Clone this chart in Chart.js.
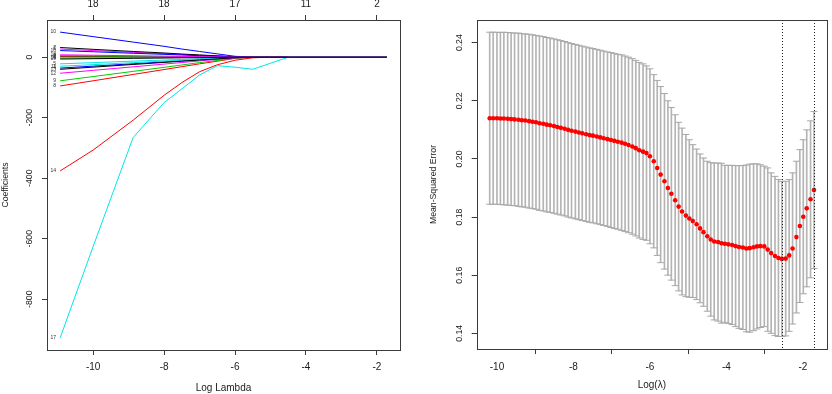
<!DOCTYPE html>
<html><head><meta charset="utf-8">
<script src="https://cdn.jsdelivr.net/npm/chart.js@4.4.1/dist/chart.umd.min.js"></script>
<style>
html,body{margin:0;padding:0;background:#fff;}
#wrap{position:relative;width:832px;height:394px;overflow:hidden;background:#fff;}
canvas{position:absolute;top:0;}
</style></head><body>
<div id="wrap">
<canvas id="c1" width="416" height="394" style="left:0px"></canvas>
<canvas id="c2" width="416" height="394" style="left:416px"></canvas>
</div>
<script>
// ---------- Left panel: coefficient paths (glmnet) ----------
const pathLogLambda = [-10.93, -10, -8.87, -8, -7.5, -7, -6.5, -6, -5.5, -5, -4.5, -1.72];
const coef1  = [3, 2.5, 1.8, 1.3, 1, 0.7, 0.4, 0.1, 0, 0, 0, 0];
const coef2  = [1, 0.8, 0.6, 0.4, 0.3, 0.2, 0.1, 0, 0, 0, 0, 0];
const coef3  = [5, 4.1, 3, 2.2, 1.7, 1.2, 0.7, 0.2, 0, 0, 0, 0];
const coef4  = [-36, -29.5, -21.6, -15.5, -11.9, -8.3, -5, -1.4, 0, 0, 0, 0];
const coef5  = [-22, -18, -13, -9.5, -7.3, -5, -3, -0.9, 0, 0, 0, 0];
const coef6  = [27, 22, 16, 11.6, 9, 6.2, 3.8, 1, 0, 0, 0, 0];
const coef7  = [32, 26, 19, 14, 10.5, 7.5, 4.5, 1.3, 0, 0, 0, 0];
const coef8  = [-95, -78, -57, -40.9, -31.4, -21.9, -13.3, -3.8, 0, 0, 0, 0];
const coef9  = [-78, -64, -46.8, -33.5, -25.7, -17.9, -10.9, -3.1, 0, 0, 0, 0];
const coef10 = [83, 68, 50, 36, 27, 19, 11, 3, 0, 0, 0, 0];
const coef11 = [-30, -24.6, -18, -12.9, -9.9, -6.9, -4.2, -1.2, 0, 0, 0, 0];
const coef12 = [-53, -43.5, -31.8, -22.8, -17.5, -12.2, -7.4, -2.1, 0, 0, 0, 0];
const coef13 = [-40, -32.8, -24, -17.2, -13.2, -9.2, -5.6, -1.6, 0, 0, 0, 0];
const coef14 = [-376, -307, -208, -126, -84, -48, -25, -10, -2, 0, 0, 0];
const coef15 = [-3, -2.5, -1.8, -1.3, -1, -0.7, -0.4, -0.1, 0, 0, 0, 0];
const coef16 = [22, 18, 13, 9.5, 7.3, 5, 3, 0.9, 0, 0, 0, 0];
const coef17 = [-928, -626, -265, -150, -105, -59, -28, -33, -40, -20, 0, 0];
const coef18 = [8, 6.6, 4.8, 3.4, 2.6, 1.8, 1.1, 0.3, 0, 0, 0, 0];
const coef19 = [-6, -4.9, -3.6, -2.6, -2, -1.4, -0.8, -0.2, 0, 0, 0, 0];
const coefSeries = [coef1, coef2, coef3, coef4, coef5, coef6, coef7, coef8, coef9, coef10,
                    coef11, coef12, coef13, coef14, coef15, coef16, coef17, coef18, coef19];
const leftXTicks = [-10, -8, -6, -4, -2];
const leftTopDf = ['18', '18', '17', '11', '2'];
const leftYTicks = [-800, -600, -400, -200, 0];

// ---------- Right panel: cross-validation curve (cv.glmnet) ----------
const cvLogLambda = [
 -10.19,-10.10,-10.00,-9.91,-9.82,-9.72,-9.63,-9.54,-9.44,-9.35,
 -9.26,-9.16,-9.07,-8.98,-8.89,-8.79,-8.70,-8.61,-8.51,-8.42,
 -8.33,-8.23,-8.14,-8.05,-7.95,-7.86,-7.77,-7.67,-7.58,-7.49,
 -7.39,-7.30,-7.21,-7.11,-7.02,-6.93,-6.84,-6.74,-6.65,-6.56,
 -6.46,-6.37,-6.28,-6.18,-6.09,-6.00,-5.90,-5.81,-5.72,-5.62,
 -5.53,-5.44,-5.34,-5.25,-5.16,-5.06,-4.97,-4.88,-4.78,-4.69,
 -4.60,-4.50,-4.41,-4.32,-4.22,-4.13,-4.04,-3.95,-3.85,-3.76,
 -3.67,-3.57,-3.48,-3.39,-3.29,-3.20,-3.11,-3.01,-2.92,-2.83,
 -2.73,-2.64,-2.55,-2.45,-2.36,-2.27,-2.17,-2.08,-1.99,-1.90,
 -1.80,-1.71];
const cvMean = [
 0.2140,0.2140,0.2140,0.2139,0.2139,0.2138,0.2137,0.2136,0.2135,0.2133,
 0.2132,0.2130,0.2128,0.2126,0.2123,0.2121,0.2118,0.2116,0.2113,0.2110,
 0.2107,0.2104,0.2100,0.2097,0.2094,0.2091,0.2088,0.2085,0.2082,0.2080,
 0.2077,0.2074,0.2071,0.2068,0.2065,0.2062,0.2059,0.2056,0.2052,0.2048,
 0.2043,0.2037,0.2030,0.2025,0.2020,0.2009,0.1992,0.1969,0.1946,0.1923,
 0.1900,0.1880,0.1858,0.1836,0.1819,0.1805,0.1795,0.1786,0.1775,0.1761,
 0.1748,0.1734,0.1723,0.1716,0.1714,0.1710,0.1708,0.1706,0.1704,0.1700,
 0.1697,0.1695,0.1692,0.1693,0.1696,0.1699,0.1700,0.1699,0.1688,0.1676,
 0.1666,0.1659,0.1656,0.1657,0.1668,0.1692,0.1731,0.1769,0.1801,0.1830,
 0.1861,0.1893];
const cvSE = [
 0.0296,0.0296,0.0296,0.0296,0.0297,0.0297,0.0297,0.0297,0.0298,0.0298,
 0.0298,0.0299,0.0299,0.0299,0.0300,0.0300,0.0300,0.0300,0.0300,0.0300,
 0.0300,0.0300,0.0300,0.0300,0.0300,0.0300,0.0300,0.0300,0.0300,0.0300,
 0.0300,0.0300,0.0300,0.0300,0.0301,0.0301,0.0301,0.0302,0.0302,0.0302,
 0.0302,0.0302,0.0302,0.0302,0.0300,0.0301,0.0298,0.0301,0.0303,0.0302,
 0.0300,0.0297,0.0294,0.0290,0.0287,0.0279,0.0271,0.0263,0.0259,0.0256,
 0.0255,0.0258,0.0264,0.0270,0.0272,0.0275,0.0270,0.0272,0.0274,0.0277,
 0.0280,0.0282,0.0287,0.0289,0.0287,0.0284,0.0280,0.0276,0.0281,0.0276,
 0.0274,0.0270,0.0267,0.0266,0.0261,0.0260,0.0261,0.0263,0.0265,0.0270,
 0.0270,0.0270];
const cvNzAt = [0, 6, 12, 18, 25, 31, 37, 42, 48, 54, 60, 66, 72, 77, 81, 85, 89];
const cvNzLabels = ['19','19','19','19','19','19','18','18','17','15','14','13','11','8','4','2','1'];
const lambdaMinIdx = 82;
const lambda1seIdx = 91;
const rightXTicks = [-10, -8, -6, -4, -2];
const rightYTicks = [0.14, 0.16, 0.18, 0.20, 0.22, 0.24];

// ---------- styling ----------
Chart.defaults.font.family = '"Liberation Sans", Arial, Helvetica, sans-serif';
Chart.defaults.color = '#1a1a1a';
const FONT = '"Liberation Sans", Arial, Helvetica, sans-serif';
const rPalette = ['#000000', '#FF0000', '#00CD00', '#0000FF', '#00E5E5', '#FF00FF'];
const axisCol = '#3a3a3a';

function rBoxAndYLabels(labelX, decimals) {
  return {
    id: 'rBox',
    afterDraw(chart) {
      const ctx = chart.ctx, a = chart.chartArea, ys = chart.scales.y;
      ctx.save();
      ctx.strokeStyle = axisCol; ctx.lineWidth = 1;
      ctx.strokeRect(Math.round(a.left) + 0.5, Math.round(a.top) + 0.5,
                     Math.round(a.right) - Math.round(a.left), Math.round(a.bottom) - Math.round(a.top));
      ctx.fillStyle = '#1a1a1a';
      ctx.font = '8.7px ' + FONT;
      ctx.textAlign = 'center'; ctx.textBaseline = 'middle';
      ys.ticks.forEach(t => {
        const y = ys.getPixelForValue(t.value);
        ctx.save(); ctx.translate(labelX, y); ctx.rotate(-Math.PI / 2);
        ctx.fillText(decimals ? t.value.toFixed(decimals) : String(t.value), 0, 0);
        ctx.restore();
      });
      ctx.restore();
    }
  };
}

const coefLabelPlugin = {
  id: 'coefLabels',
  afterDatasetsDraw(chart) {
    const ctx = chart.ctx;
    ctx.save();
    ctx.fillStyle = '#333'; ctx.font = '5px ' + FONT;
    ctx.textAlign = 'right'; ctx.textBaseline = 'middle';
    chart.data.datasets.forEach((ds, i) => {
      const pt = chart.getDatasetMeta(i).data[0];
      ctx.fillText(String(i + 1), pt.x - 4, pt.y);
    });
    ctx.restore();
  }
};

const vlinePlugin = {
  id: 'vlines',
  afterDatasetsDraw(chart) {
    const ctx = chart.ctx, a = chart.chartArea, xs = chart.scales.x;
    ctx.save();
    ctx.strokeStyle = '#222'; ctx.lineWidth = 1; ctx.setLineDash([1, 2]);
    [lambdaMinIdx, lambda1seIdx].forEach(i => {
      const x = Math.round(xs.getPixelForValue(cvLogLambda[i])) + 0.5;
      ctx.beginPath(); ctx.moveTo(x, a.top); ctx.lineTo(x, a.bottom); ctx.stroke();
    });
    ctx.restore();
  }
};

const tickGrid = { display: true, drawOnChartArea: false, drawTicks: true, tickLength: 5, color: axisCol, lineWidth: 1 };

// ---------- Left chart ----------
new Chart(document.getElementById('c1'), {
  type: 'line',
  data: {
    datasets: coefSeries.map((vals, k) => ({
      label: 'V' + (k + 1),
      data: pathLogLambda.map((x, j) => ({ x: x, y: vals[j] })),
      borderColor: rPalette[k % 6], borderWidth: 1, pointRadius: 0,
      tension: 0, fill: false, order: 19 - k, xAxisID: 'x', yAxisID: 'y'
    }))
  },
  options: {
    responsive: false, animation: false, events: [],
    layout: { padding: { left: 0, right: 16, top: 0, bottom: 0 } },
    plugins: { legend: { display: false }, tooltip: { enabled: false } },
    scales: {
      x: {
        type: 'linear', position: 'bottom', min: -11.30, max: -1.35,
        afterBuildTicks: s => { s.ticks = leftXTicks.map(v => ({ value: v })); },
        afterFit: s => { s.height = 44; },
        grid: tickGrid, border: { display: false },
        ticks: { font: { size: 10 }, padding: 6.5, maxRotation: 0, minRotation: 0, autoSkip: false,
                 callback: v => String(v) },
        title: { display: true, text: 'Log Lambda', font: { size: 10 }, padding: { top: 0, bottom: 0 } }
      },
      xTop: {
        type: 'linear', position: 'top', min: -11.30, max: -1.35,
        afterBuildTicks: s => { s.ticks = leftXTicks.map(v => ({ value: v })); },
        afterFit: s => { s.height = 20; },
        grid: tickGrid, border: { display: false },
        ticks: { font: { size: 10 }, padding: 4.7, maxRotation: 0, minRotation: 0, autoSkip: false,
                 callback: (v, i) => leftTopDf[i] }
      },
      y: {
        type: 'linear', position: 'left', min: -968, max: 123,
        afterBuildTicks: s => { s.ticks = leftYTicks.map(v => ({ value: v })); },
        afterFit: s => { s.width = 47; },
        grid: tickGrid, border: { display: false },
        ticks: { display: false },
        title: { display: true, text: 'Coefficients', font: { size: 8.7 }, padding: { top: 0, bottom: 0 } }
      }
    }
  },
  plugins: [rBoxAndYLabels(30, 0), coefLabelPlugin]
});

// ---------- Right chart ----------
const cvUpper = cvMean.map((m, i) => m + cvSE[i]);
const cvLower = cvMean.map((m, i) => m - cvSE[i]);

new Chart(document.getElementById('c2'), {
  type: 'scatter',
  data: {
    datasets: [
      { type: 'scatter', label: 'cvm', data: cvLogLambda.map((x, i) => ({ x: x, y: cvMean[i] })),
        pointRadius: 2.3, pointBackgroundColor: '#FF0000', pointBorderWidth: 0, order: 0 },
      { type: 'scatter', label: 'cvup', data: cvLogLambda.map((x, i) => ({ x: x, y: cvUpper[i] })),
        pointStyle: 'line', pointRadius: 3.5, pointBorderColor: '#A9A9A9', pointBorderWidth: 1, order: 1 },
      { type: 'scatter', label: 'cvlo', data: cvLogLambda.map((x, i) => ({ x: x, y: cvLower[i] })),
        pointStyle: 'line', pointRadius: 3.5, pointBorderColor: '#A9A9A9', pointBorderWidth: 1, order: 1 },
      { type: 'bar', label: 'bars', data: cvLogLambda.map((x, i) => ({ x: x, y: [cvLower[i], cvUpper[i]] })),
        backgroundColor: '#B4B4B4', borderWidth: 0, barThickness: 1, order: 2 }
    ]
  },
  options: {
    responsive: false, animation: false, events: [],
    layout: { padding: { left: 0, right: 2, top: 0, bottom: 0 } },
    plugins: { legend: { display: false }, tooltip: { enabled: false } },
    scales: {
      x: {
        type: 'linear', position: 'bottom', min: -10.53, max: -1.37, offset: false,
        afterBuildTicks: s => { s.ticks = rightXTicks.map(v => ({ value: v })); },
        afterFit: s => { s.height = 45; },
        grid: tickGrid, border: { display: false },
        ticks: { font: { size: 10 }, padding: 7.5, maxRotation: 0, minRotation: 0, autoSkip: false,
                 callback: v => String(v) },
        title: { display: true, text: 'Log(λ)', font: { size: 10 }, padding: { top: 0, bottom: 3 } }
      },
      xTop: {
        type: 'linear', position: 'top', min: -10.53, max: -1.37, offset: false,
        afterBuildTicks: s => { s.ticks = cvNzAt.map(i => ({ value: cvLogLambda[i] })); },
        afterFit: s => { s.height = 20; },
        grid: { display: false }, border: { display: false },
        ticks: { font: { size: 10 }, padding: 9.7, maxRotation: 0, minRotation: 0, autoSkip: false,
                 callback: (v, i) => cvNzLabels[i] }
      },
      y: {
        type: 'linear', position: 'left', min: 0.1346, max: 0.2478,
        afterBuildTicks: s => { s.ticks = rightYTicks.map(v => ({ value: v })); },
        afterFit: s => { s.width = 60.7; },
        grid: tickGrid, border: { display: false },
        ticks: { display: false },
        title: { display: true, text: 'Mean-Squared Error', font: { size: 8.7 }, padding: { top: 12, bottom: 0 } }
      }
    }
  },
  plugins: [rBoxAndYLabels(43.3, 2), vlinePlugin]
});
</script>
</body></html>
